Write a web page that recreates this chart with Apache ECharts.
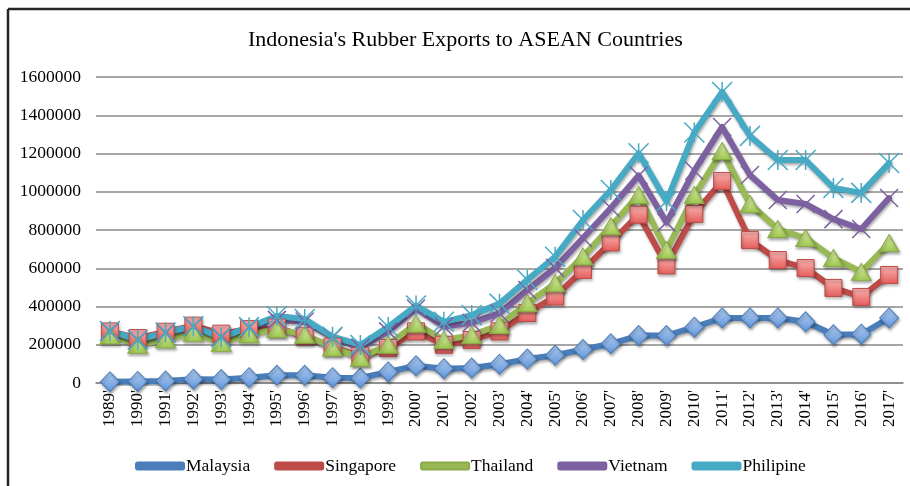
<!DOCTYPE html>
<html>
<head>
<meta charset="utf-8">
<script src="https://cdn.jsdelivr.net/npm/echarts@6/dist/echarts.min.js"></script>
<style>
html,body{margin:0;padding:0;background:#fff;}
#chart{width:910px;height:486px;}
</style>
</head>
<body>
<div id="chart"></div>
<script>
const categories = ["1989'","1990'","1991'","1992'","1993'","1994'","1995'","1996'","1997'","1998'","1999'","2000'","2001'","2002'","2003'","2004'","2005'","2006'","2007'","2008'","2009'","2010'","2011'","2012'","2013'","2014'","2015'","2016'","2017'"];

const malaysia = [6000,8000,10000,20000,18000,28000,40000,40000,28000,26000,58000,90000,75000,78000,98000,125000,145000,175000,205000,248000,248000,292000,340000,340000,340000,320000,252000,255000,340000];
const singapore = [270000,235000,268000,300000,258000,282000,290000,245000,190000,140000,183000,270000,200000,225000,270000,366000,452000,591000,735000,880000,615000,884000,1056000,748000,643000,601000,497000,450000,565000];
const thailand = [248000,200000,228000,262000,210000,255000,282000,252000,185000,132000,200000,310000,225000,250000,303000,417000,521000,661000,820000,983000,695000,983000,1213000,936000,805000,758000,654000,581000,732000];
const vietnam = [270000,225000,262000,295000,240000,290000,330000,322000,240000,185000,270000,390000,295000,315000,365000,486000,602000,758000,915000,1085000,840000,1110000,1339000,1088000,957000,936000,857000,805000,967000];
const philipine = [272000,226000,264000,297000,238000,292000,350000,335000,242000,199000,294000,405000,320000,355000,415000,540000,660000,852000,1009000,1201000,950000,1310000,1522000,1292000,1166000,1166000,1020000,994000,1150000];

const seriesNames = ['Malaysia','Singapore','Thailand','Vietnam','Philipine'];
const yTicks = {min: 0, max: 1600000, interval: 200000};

const FONT = '"Liberation Serif","Times New Roman",serif';
const COLORS = ['#4A7EBB','#BE4B48','#98B954','#7D60A0','#46AAC5'];

function grad(top, bottom) {
  return new echarts.graphic.LinearGradient(0, 0, 0, 1, [
    {offset: 0, color: top}, {offset: 1, color: bottom}
  ]);
}

const shadow = {shadowBlur: 3, shadowOffsetX: 1, shadowOffsetY: 2, shadowColor: 'rgba(0,0,0,0.35)'};

function mkSeries(name, data, lineColor, symbol, size, itemStyle) {
  return {
    name: name,
    type: 'line',
    data: data,
    symbol: symbol,
    symbolSize: size,
    showSymbol: true,
    animation: false,
    lineStyle: Object.assign({color: lineColor, width: 6, cap: 'round', join: 'round'}, shadow),
    itemStyle: Object.assign({}, shadow, itemStyle),
    emphasis: {disabled: true}
  };
}

const noShadow = {shadowBlur: 0, shadowOffsetX: 0, shadowOffsetY: 0};

const series = [
  mkSeries(seriesNames[0], malaysia, COLORS[0], 'diamond', [19, 20],
    {color: grad('#B4D0F5', '#5F93D8'), borderColor: '#4A7EBB', borderWidth: 1}),
  mkSeries(seriesNames[1], singapore, COLORS[1], 'rect', 17,
    {color: grad('#FBB4B2', '#E45D5A'), borderColor: '#BE4B48', borderWidth: 1}),
  mkSeries(seriesNames[2], thailand, COLORS[2], 'triangle', [20, 17],
    {color: grad('#E2F3B0', '#9CC64E'), borderColor: '#8AAA46', borderWidth: 1}),
  mkSeries(seriesNames[3], vietnam, COLORS[3], 'path://M0,0L10,10M10,0L0,10', 18,
    Object.assign({color: 'rgba(0,0,0,0)', borderColor: '#7D60A0', borderWidth: 1.5}, noShadow)),
  mkSeries(seriesNames[4], philipine, COLORS[4], 'path://M0,0L10,10M10,0L0,10M5,0L5,10', 20,
    Object.assign({color: 'rgba(0,0,0,0)', borderColor: '#46AAC5', borderWidth: 1.5}, noShadow))
];

const chart = echarts.init(document.getElementById('chart'), null, {renderer: 'canvas'});
chart.setOption({
  backgroundColor: '#ffffff',
  animation: false,
  color: COLORS,
  title: {
    text: "Indonesia's Rubber Exports to ASEAN Countries",
    left: 243, top: 24,
    textStyle: {fontFamily: FONT, fontSize: 22, fontWeight: 'normal', color: '#000'}
  },
  legend: {
    data: seriesNames.map((n, i) => ({name: n, icon: 'roundRect', itemStyle: {color: COLORS[i]}})),
    left: 130, top: 452,
    itemWidth: 48, itemHeight: 7, itemGap: 24,
    textStyle: {fontFamily: FONT, fontSize: 17.5, color: '#000', padding: [0, 0, 0, -3]}
  },
  grid: {left: 96, right: 7, top: 77, bottom: 103, containLabel: false},
  xAxis: {
    type: 'category',
    data: categories,
    boundaryGap: true,
    axisLine: {show: true, lineStyle: {color: '#888888', width: 1.5}},
    axisTick: {show: false},
    axisLabel: {rotate: 90, interval: 0, margin: 7, fontFamily: FONT, fontSize: 17, color: '#000'}
  },
  yAxis: {
    type: 'value',
    min: yTicks.min, max: yTicks.max, interval: yTicks.interval,
    axisLine: {show: false},
    axisTick: {show: false},
    splitLine: {show: true, lineStyle: {color: '#888888', width: 1.5}},
    axisLabel: {margin: 15, fontFamily: FONT, fontSize: 17.5, color: '#000', formatter: v => String(v)}
  },
  graphic: [
    {type: 'line', shape: {x1: 8, y1: 9, x2: 910, y2: 9}, style: {stroke: '#262626', lineWidth: 2.5}, silent: true},
    {type: 'line', shape: {x1: 8, y1: 9, x2: 8, y2: 486}, style: {stroke: '#262626', lineWidth: 2.5}, silent: true}
  ],
  series: series
});
</script>
</body>
</html>
